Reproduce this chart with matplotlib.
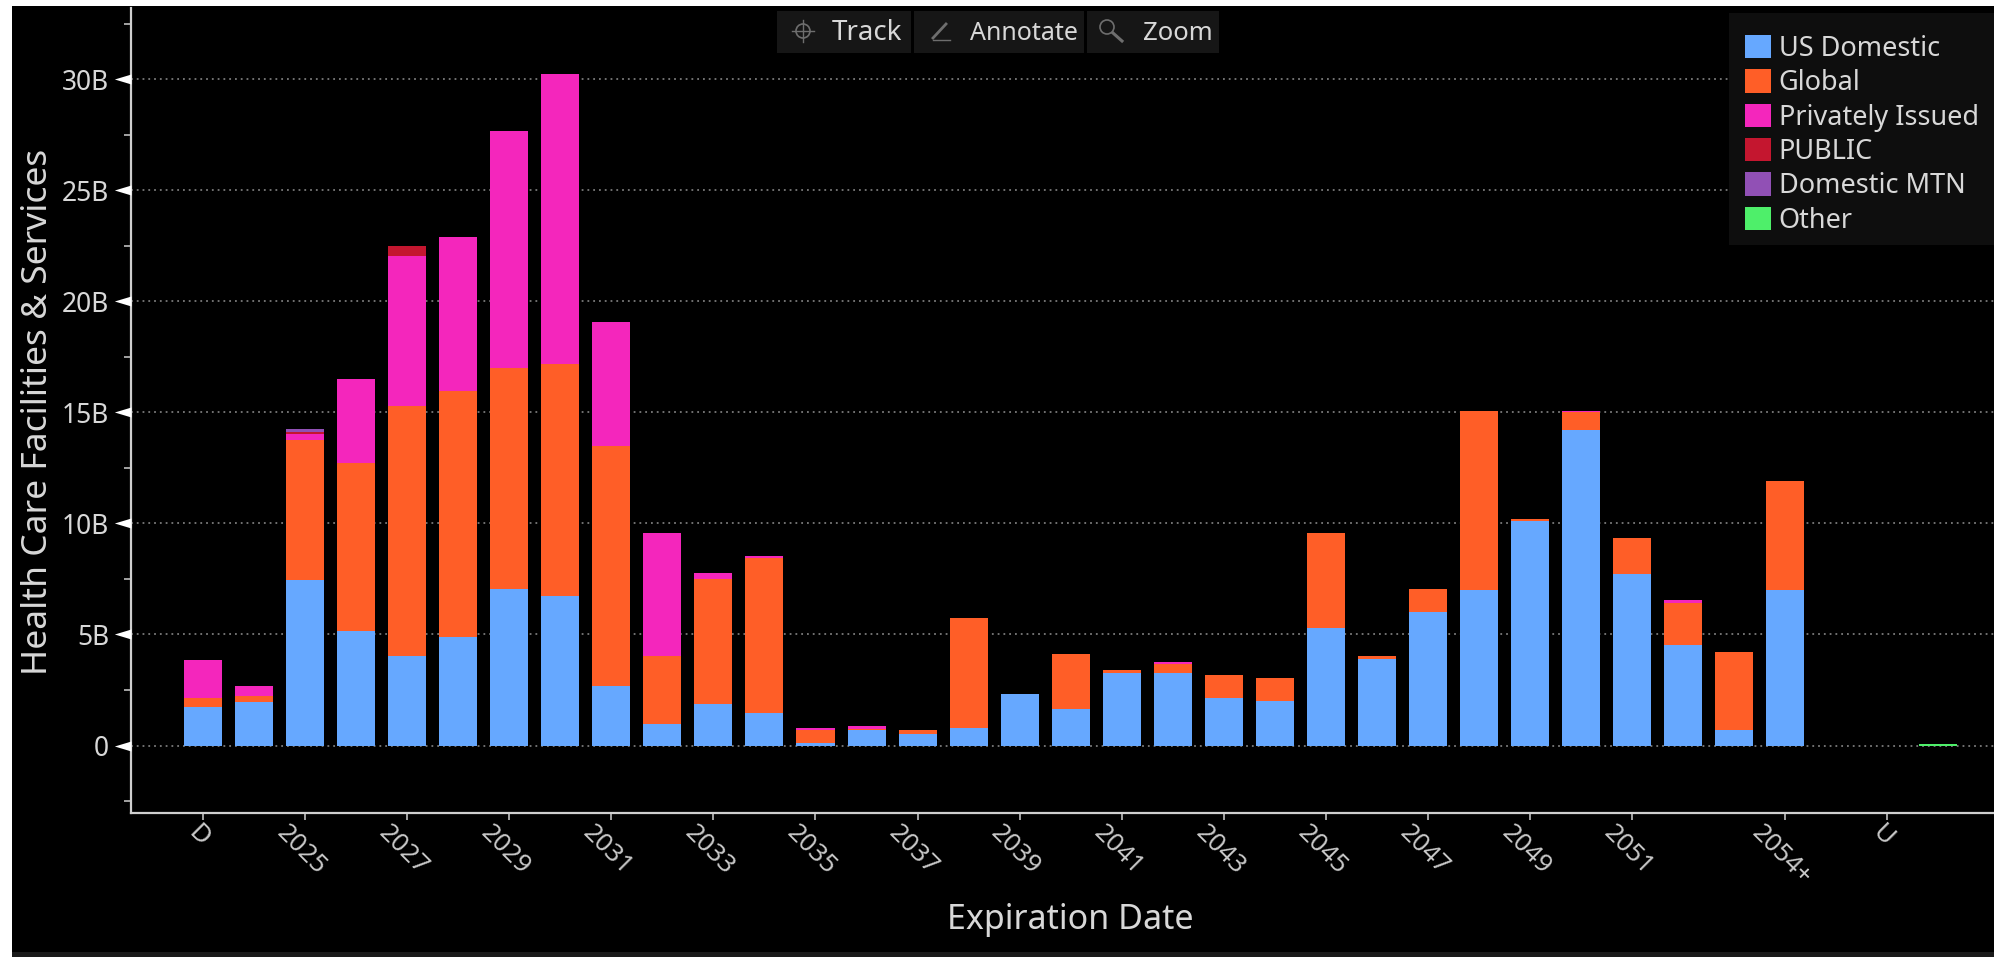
import matplotlib
matplotlib.use("Agg")
import matplotlib.pyplot as plt
import numpy as np
from matplotlib.lines import Line2D
from matplotlib.patches import Ellipse, Patch, Rectangle
from matplotlib.path import Path
from matplotlib.transforms import ScaledTranslation


WIDTH, HEIGHT = 1994, 957
DPI = 100

categories = ["D", "2024", "2025", "2026", "2027", "2028", "2029", "2030", "2031",
              "2032", "2033", "2034", "2035", "2036", "2037", "2038", "2039", "2040",
              "2041", "2042", "2043", "2044", "2045", "2046", "2047", "2048", "2049",
              "2050", "2051", "2052", "2053", "2054+", "", "U", ""]

# amounts outstanding, in billions
us_domestic = [1.75, 1.94, 7.45, 5.16, 4.04, 4.88, 7.05, 6.71, 2.70, 0.99, 1.85, 1.47,
               0.13, 0.69, 0.51, 0.79, 2.32, 1.65, 3.27, 3.27, 2.13, 2.00, 5.27, 3.90,
               6.02, 7.00, 10.09, 14.20, 7.74, 4.52, 0.70, 7.00, 0, 0, 0]
global_bonds = [0.38, 0.29, 6.30, 7.54, 11.24, 11.07, 9.93, 10.47, 10.77, 3.05, 5.63, 6.98,
                0.59, 0.05, 0.19, 4.96, 0, 2.48, 0.11, 0.42, 1.03, 1.04, 4.29, 0.12,
                1.03, 8.07, 0.11, 0.80, 1.60, 1.90, 3.53, 4.92, 0, 0, 0]
privately_issued = [1.71, 0.47, 0.27, 3.80, 6.76, 6.93, 10.68, 13.05, 5.61, 5.52, 0.28, 0.08,
                    0.07, 0.14, 0, 0, 0, 0, 0, 0.06, 0, 0, 0, 0,
                    0, 0, 0, 0.07, 0, 0.11, 0, 0, 0, 0, 0]
public = [0, 0, 0.10, 0, 0.46, 0, 0, 0, 0, 0, 0, 0,
          0, 0, 0, 0, 0, 0, 0, 0, 0, 0, 0, 0,
          0, 0, 0, 0, 0, 0, 0, 0, 0, 0, 0]
domestic_mtn = [0, 0, 0.11, 0, 0, 0, 0, 0, 0, 0, 0, 0,
                0, 0, 0, 0, 0, 0, 0, 0, 0, 0, 0, 0,
                0, 0, 0, 0, 0, 0, 0, 0, 0, 0, 0]
other = [0, 0, 0, 0, 0, 0, 0, 0, 0, 0, 0, 0,
         0, 0, 0, 0, 0, 0, 0, 0, 0, 0, 0, 0,
         0, 0, 0, 0, 0, 0, 0, 0, 0, 0, 0.06]

series_names = ["US Domestic", "Global", "Privately Issued", "PUBLIC", "Domestic MTN", "Other"]
series_values = [us_domestic, global_bonds, privately_issued, public, domestic_mtn, other]
series_colors = ["#66A8FF", "#FF5E27", "#F426BC", "#C4162F", "#9150B5", "#4EEF6A"]

y_major = [0, 5, 10, 15, 20, 25, 30]
y_major_labels = ["0", "5B", "10B", "15B", "20B", "25B", "30B"]
y_minor = [-2.5, 2.5, 7.5, 12.5, 17.5, 22.5, 27.5, 32.5]
x_tick_labels = ["D", "2025", "2027", "2029", "2031", "2033", "2035", "2037", "2039", "2041",
                 "2043", "2045", "2047", "2049", "2051", "2054+", "U"]

TEXT_COLOR = "#D8D8D8"
AXIS_COLOR = "#CFCFCF"
ICON_COLOR = "#6E6E6E"


def fx(x):
    return x / WIDTH


def fy(y):
    return 1 - y / HEIGHT


def add_rect(fig, x0, y0, x1, y1, color, zorder=0):
    fig.add_artist(Rectangle((fx(x0), fy(y1)), fx(x1) - fx(x0), fy(y0) - fy(y1),
                             transform=fig.transFigure, facecolor=color,
                             edgecolor="none", zorder=zorder))


def add_line(fig, xs, ys, color=ICON_COLOR, lw=1.4, zorder=11):
    fig.add_artist(Line2D([fx(v) for v in xs], [fy(v) for v in ys], color=color, lw=lw,
                          transform=fig.transFigure, zorder=zorder))


def add_ring(fig, x, y, radius):
    fig.add_artist(Ellipse((fx(x), fy(y)), 2 * radius / WIDTH, 2 * radius / HEIGHT,
                           transform=fig.transFigure, fill=False,
                           edgecolor=ICON_COLOR, lw=1.2, zorder=11))


def draw_toolbar(fig):
    for x0, x1 in [(777, 911), (914, 1084), (1087, 1219)]:
        add_rect(fig, x0, 11, x1, 53, "#161616", zorder=10)
    for label, x, size in [("Track", 832, 20), ("Annotate", 970, 18), ("Zoom", 1143, 18.5)]:
        fig.text(fx(x), fy(33.5), label, color=TEXT_COLOR, fontsize=size,
                 ha="left", va="center", zorder=11)

    # crosshair
    add_ring(fig, 803, 31, 7)
    add_line(fig, [792, 814], [31, 31], lw=1)
    add_line(fig, [803, 803], [20, 42], lw=1)
    # pencil
    add_line(fig, [933, 946], [38, 24], lw=2)
    add_line(fig, [933, 950], [40, 40], lw=1)
    # magnifier
    add_ring(fig, 1107, 27, 7)
    add_line(fig, [1113, 1122], [33, 41], lw=2.2)


def main():
    plt.rcParams["font.family"] = ["Noto Sans", "DejaVu Sans"]

    fig = plt.figure(figsize=(WIDTH / DPI, HEIGHT / DPI), dpi=DPI, facecolor="white")
    add_rect(fig, 12, 6, WIDTH, 952, "black")
    add_rect(fig, 12, 952, WIDTH, HEIGHT, "#1A1A1A")

    ax = fig.add_axes([fx(131), fy(813), fx(1994) - fx(131), fy(8) - fy(813)])
    ax.set_facecolor("none")
    ax.set_zorder(1)

    x = np.arange(len(categories))
    bottom = np.zeros(len(categories))
    for values, color in zip(series_values, series_colors):
        values = np.array(values, dtype=float)
        ax.bar(x, values, width=0.745, bottom=bottom, color=color, linewidth=0, zorder=3)
        bottom += values

    ax.set_xlim(-1.411, 35.09)
    ax.set_ylim(-3.036, 33.2)

    # y axis: white arrowheads on the major levels, short dashes between them
    ax.set_yticks(y_major)
    ax.set_yticklabels(y_major_labels, fontsize=19, color=TEXT_COLOR)
    ax.set_yticks(y_minor, minor=True)
    ax.tick_params(axis="y", which="major", length=0, pad=15.8)
    ax.tick_params(axis="y", which="minor", length=5, width=1.1, color=AXIS_COLOR)
    arrow = Path([(-1, 0), (0, 0.3), (0, -0.3), (-1, 0)])
    ax.plot(np.zeros(len(y_major)), y_major, ls="", marker=arrow, markersize=24, color="white",
            markeredgewidth=0, transform=ax.get_yaxis_transform(), clip_on=False, zorder=6)

    ax.grid(axis="y", which="major", color="#7A7A7A", lw=1.3, linestyle=(0, (1, 2.2)), zorder=1)
    ax.set_axisbelow(True)

    tick_pos = [categories.index(v) for v in x_tick_labels]
    ax.set_xticks(tick_pos)
    ax.set_xticklabels(x_tick_labels, fontsize=18.5, color="#C8C8C8", rotation=-45,
                       ha="center", va="top")
    ax.tick_params(axis="x", length=5, width=1.1, color=AXIS_COLOR, pad=0.8)
    shift = ScaledTranslation(-4 / DPI, 0, fig.dpi_scale_trans)
    for label in ax.get_xticklabels():
        label.set_transform(label.get_transform() + shift)

    for side in ["top", "right"]:
        ax.spines[side].set_visible(False)
    for side in ["left", "bottom"]:
        ax.spines[side].set_color(AXIS_COLOR)
        ax.spines[side].set_linewidth(1.6)

    fig.text(fx(38), fy(412), "Health Care Facilities & Services", rotation=90, color=TEXT_COLOR,
             fontsize=25.5, ha="center", va="center")
    fig.text(fx(1070), fy(920), "Expiration Date", color=TEXT_COLOR, fontsize=24.5,
             ha="center", va="center")

    # legend panel runs off the right edge, so it is drawn apart from the legend entries
    ax.add_patch(Rectangle((fx(1729), fy(245)), fx(1994) - fx(1729), fy(13) - fy(245),
                           transform=fig.transFigure, facecolor="#0E0E0E", edgecolor="none",
                           zorder=7, clip_on=False))
    handles = [Patch(facecolor=c, edgecolor="none") for c in series_colors]
    legend = ax.legend(handles, series_names, loc="upper left",
                       bbox_to_anchor=(fx(1745), fy(35)), bbox_transform=fig.transFigure,
                       prop={"size": 19.5}, labelcolor=TEXT_COLOR, frameon=False,
                       borderaxespad=0, borderpad=0, handlelength=0.95, handleheight=0.95,
                       handletextpad=0.3, labelspacing=0.235)
    legend.set_zorder(8)

    draw_toolbar(fig)

    fig.savefig("out.png", dpi=DPI, facecolor=fig.get_facecolor())
    plt.close(fig)


if __name__ == "__main__":
    main()
